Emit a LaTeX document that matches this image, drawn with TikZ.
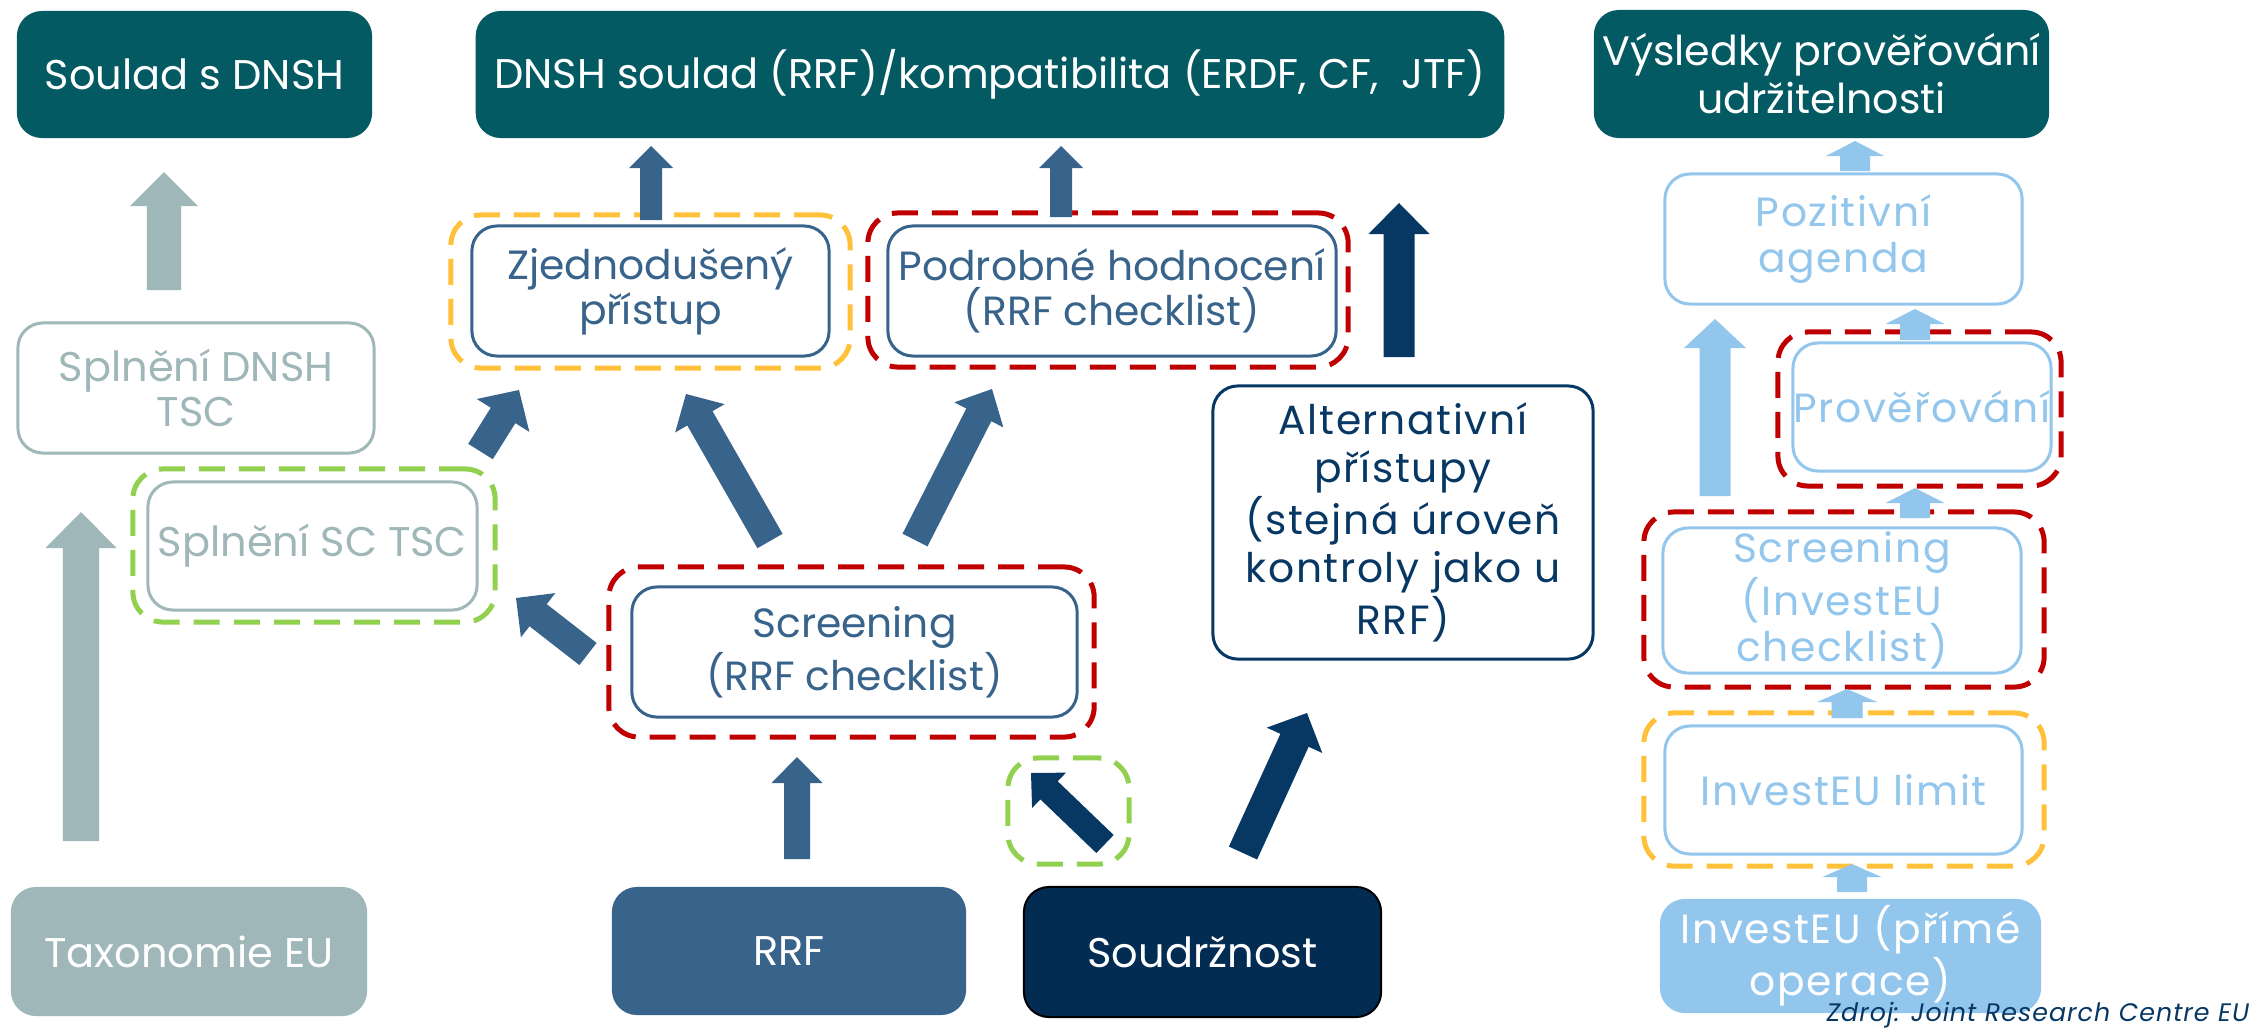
\documentclass[tikz,border=0pt]{standalone}
\usepackage{fontspec}
\setmainfont{Poppins}
\newfontfamily\widefont[LetterSpace=4]{Poppins}
\usetikzlibrary{calc}
\definecolor{cTeal}{HTML}{035A63}
\definecolor{cGray}{HTML}{9FB7B8}
\definecolor{cBlue}{HTML}{38638A}
\definecolor{cNavy}{HTML}{073763}
\definecolor{cNavyFill}{HTML}{032C53}
\definecolor{cLight}{HTML}{93C6ED}
\definecolor{cYel}{HTML}{FFC13A}
\definecolor{cRed}{HTML}{C00000}
\definecolor{cGreen}{HTML}{92D050}
\newcommand{\blkarrow}[6]{%
  \coordinate (ba-b) at ($(#3)!#6!(#2)$);
  \fill[#1] ($(#2)!#4!90:(#3)$) -- ($(ba-b)!#4!90:(#3)$) -- ($(ba-b)!#5!90:(#3)$) -- (#3)
    -- ($(ba-b)!#5!-90:(#3)$) -- ($(ba-b)!#4!-90:(#3)$) -- ($(#2)!#4!-90:(#3)$) -- cycle;
}
\tikzset{
  box/.style={rounded corners=0.25cm, align=center, inner sep=0pt, font=\fontsize{11.8}{13}\selectfont},
  tealbox/.style={box, fill=cTeal, text=white},
  graybox/.style={box, draw=cGray, line width=0.03cm, text=cGray},
  bluebox/.style={box, draw=cBlue, line width=0.03cm, text=cBlue, font=\fontsize{11.6}{12.8}\selectfont},
  lightbox/.style={box, draw=cLight, line width=0.03cm, text=cLight, font=\widefont\fontsize{11.6}{13.3}\selectfont},
  dashbox/.style={rounded corners=0.3cm, line width=0.05cm, dash pattern=on 0.26cm off 0.14cm, inner sep=0pt},
  reddash/.style={dashbox, draw=cRed},
  yeldash/.style={dashbox, draw=cYel},
  greendash/.style={dashbox, draw=cGreen},
}
\begin{document}
\begin{tikzpicture}[x=0.01cm,y=-0.01cm]
\useasboundingbox[fill=white] (0,0) rectangle (2254,1030);

% dashed frames
\node[yeldash, minimum width=3.99cm, minimum height=1.53cm] (zjedF) at (650.5,291.5) {};
\node[reddash, minimum width=4.80cm, minimum height=1.54cm] (podrF) at (1108,290) {};
\node[greendash, minimum width=3.62cm, minimum height=1.53cm] (splscF) at (314,545.5) {};
\node[reddash, minimum width=4.85cm, minimum height=1.70cm] (scrF) at (851.5,652) {};
\node[greendash, minimum width=1.21cm, minimum height=1.06cm] (smallF) at (1068.5,811) {};
\node[reddash, minimum width=2.83cm, minimum height=1.54cm] (provF) at (1919.5,409) {};
\node[reddash, minimum width=4.00cm, minimum height=1.75cm] (scrIF) at (1844,599.5) {};
\node[yeldash, minimum width=4.00cm, minimum height=1.53cm] (limF) at (1844,789.5) {};

% top row
\node[tealbox, minimum width=3.55cm, minimum height=1.27cm] (soul) at (194.5,74.5) {Soulad s DNSH};
\node[tealbox, minimum width=10.28cm, minimum height=1.27cm] (dnsh) at (990,74.5) {DNSH soulad (RRF)/kompatibilita (ERDF, CF,\ \ JTF)};
\node[tealbox, minimum width=4.55cm, minimum height=1.28cm, font=\fontsize{11.7}{13.7}\selectfont] (vysl) at (1821.5,74) {Výsledky prověřování\\udržitelnosti};

% left column
\node[graybox, minimum width=3.56cm, minimum height=1.30cm] (spldnsh) at (196,388) {Splnění DNSH\\TSC};
\node[graybox, minimum width=3.29cm, minimum height=1.28cm] (splsc) at (312.5,546) {Splnění SC TSC};
\node[box, fill=cGray, text=white, minimum width=3.56cm, minimum height=1.29cm] (tax) at (189,951.5) {Taxonomie EU};

% middle
\node[bluebox, minimum width=3.57cm, minimum height=1.30cm] (zjed) at (650.5,291) {Zjednodušený\\přístup};
\node[bluebox, minimum width=4.48cm, minimum height=1.30cm] (podr) at (1112,291) {Podrobné hodnocení\\(RRF checklist)};
\node[bluebox, minimum width=4.45cm, minimum height=1.30cm] (scr) at (854.5,652) {Screening\\(RRF checklist)};
\node[box, fill=cBlue, text=white, minimum width=3.54cm, minimum height=1.28cm] (rrf) at (789,951) {RRF};
\node[box, fill=cNavyFill, draw=black, line width=0.02cm, text=white, minimum width=3.57cm, minimum height=1.30cm] (soud) at (1202.5,952) {Soudržnost};
\node[box, draw=cNavy, line width=0.03cm, text=cNavy, minimum width=3.80cm, minimum height=2.73cm, font=\widefont\fontsize{11.6}{13.6}\selectfont] (alt) at (1403,522.5) {Alternativní\\přístupy\\(stejná úroveň\\kontroly jako u\\RRF)};

% right column
\node[lightbox, minimum width=3.57cm, minimum height=1.30cm] (poz) at (1843.5,239) {Pozitivní\\agenda};
\node[lightbox, minimum width=2.58cm, minimum height=1.28cm] (prov) at (1922,407) {Prověřování};
\node[lightbox, minimum width=3.58cm, minimum height=1.45cm] (scrI) at (1842,600.5) {Screening\\(InvestEU\\checklist)};
\node[lightbox, minimum width=3.57cm, minimum height=1.28cm] (lim) at (1843.5,790) {InvestEU limit};
\node[box, fill=cLight, text=white, minimum width=3.81cm, minimum height=1.14cm, font=\widefont\fontsize{11.6}{13.3}\selectfont] (inv) at (1850.5,956) {InvestEU (přímé\\operace)};

% arrow end points
\coordinate (g1t) at (164,290); \coordinate (g1h) at (164,172);
\coordinate (g2t) at (81,841); \coordinate (g2h) at (81,512);
\coordinate (b1t) at (651,220); \coordinate (b1h) at (651,146);
\coordinate (b2t) at (1061,217); \coordinate (b2h) at (1061,146);
\coordinate (n1t) at (1399,357); \coordinate (n1h) at (1399,203);
\coordinate (b3t) at (797,859); \coordinate (b3h) at (797,757);
\coordinate (l1t) at (1855,171); \coordinate (l1h) at (1855,141);
\coordinate (l2t) at (1715,496); \coordinate (l2h) at (1715,319);
\coordinate (l3t) at (1915,340); \coordinate (l3h) at (1915,309);
\coordinate (l4t) at (1915,518); \coordinate (l4h) at (1915,488);
\coordinate (l5t) at (1847,718); \coordinate (l5h) at (1847,689);
\coordinate (l6t) at (1852,892); \coordinate (l6h) at (1852,864);
\coordinate (d1t) at (480.5,451.5); \coordinate (d1h) at (519,390);
\coordinate (d2t) at (770,541); \coordinate (d2h) at (686,394);
\coordinate (d3t) at (915,540); \coordinate (d3h) at (992,389);
\coordinate (d4t) at (588,654); \coordinate (d4h) at (516,598);
\coordinate (n2t) at (1105,844); \coordinate (n2h) at (1031,773);
\coordinate (n3t) at (1243,853); \coordinate (n3h) at (1307,713);

\blkarrow{cGray}{g1t}{g1h}{0.17cm}{0.34cm}{0.34cm}
\blkarrow{cGray}{g2t}{g2h}{0.18cm}{0.355cm}{0.36cm}
\blkarrow{cBlue}{b1t}{b1h}{0.11cm}{0.22cm}{0.22cm}
\blkarrow{cBlue}{b2t}{b2h}{0.11cm}{0.22cm}{0.22cm}
\blkarrow{cNavy}{n1t}{n1h}{0.155cm}{0.305cm}{0.31cm}
\blkarrow{cBlue}{b3t}{b3h}{0.13cm}{0.255cm}{0.26cm}
\blkarrow{cLight}{l1t}{l1h}{0.15cm}{0.29cm}{0.15cm}
\blkarrow{cLight}{l2t}{l2h}{0.155cm}{0.31cm}{0.29cm}
\blkarrow{cLight}{l3t}{l3h}{0.15cm}{0.295cm}{0.15cm}
\blkarrow{cLight}{l4t}{l4h}{0.15cm}{0.295cm}{0.15cm}
\blkarrow{cLight}{l5t}{l5h}{0.155cm}{0.30cm}{0.13cm}
\blkarrow{cLight}{l6t}{l6h}{0.15cm}{0.295cm}{0.13cm}
\blkarrow{cBlue}{d1t}{d1h}{0.145cm}{0.31cm}{0.30cm}
\blkarrow{cBlue}{d2t}{d2h}{0.145cm}{0.285cm}{0.28cm}
\blkarrow{cBlue}{d3t}{d3h}{0.14cm}{0.275cm}{0.29cm}
\blkarrow{cBlue}{d4t}{d4h}{0.14cm}{0.28cm}{0.28cm}
\blkarrow{cNavy}{n2t}{n2h}{0.125cm}{0.245cm}{0.25cm}
\blkarrow{cNavy}{n3t}{n3h}{0.155cm}{0.305cm}{0.30cm}

\node[anchor=base east, text=cNavy, inner sep=0pt, font=\widefont\itshape\fontsize{7.2}{8}\selectfont] (src) at (2250,1021) {Zdroj: Joint Research Centre EU};
\end{tikzpicture}
\end{document}
